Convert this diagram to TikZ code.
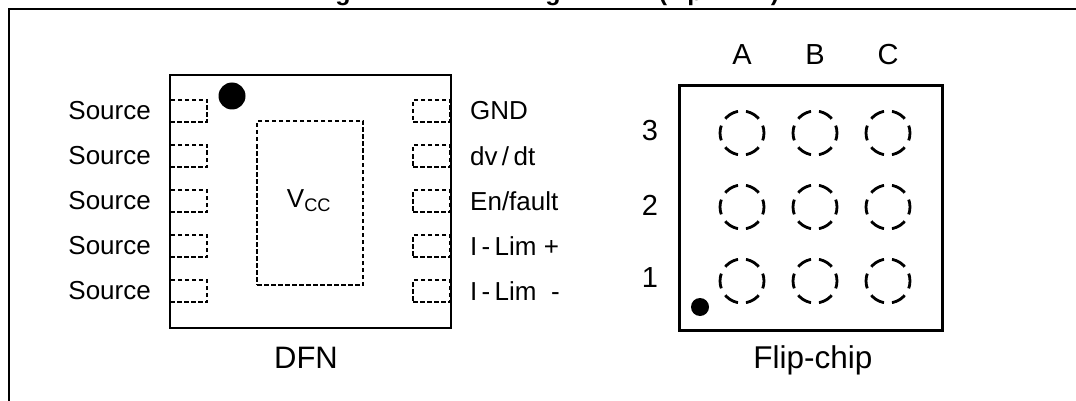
\documentclass[tikz,border=0pt]{standalone}
\usepackage{fontspec}
\setmainfont{Liberation Sans}

\begin{document}
\begin{tikzpicture}
  [x=1pt,y=-1pt,
   every node/.style={inner sep=0pt,font=\fontsize{26}{26}\selectfont},
   pad/.style={draw,line width=1.2pt,dash pattern=on 4.5pt off 2.5pt,minimum width=37pt,minimum height=22pt},
   ball/.style={draw,circle,line width=2.8pt,minimum size=44pt,dash pattern=on 15pt off 8pt,dash phase=7.5pt},
   big/.style={font=\fontsize{29}{29}\selectfont},
   title/.style={font=\bfseries\fontsize{25}{25}\selectfont,anchor=base}]
  \useasboundingbox (0,0) rectangle (1076,401);

  % title line is cut by the top edge
  \begin{scope}
    \clip (0,0) rectangle (1076,9);
    \foreach \name/\px/\glyph in {ga/343/g, gb/553/g, lp/663/(, pp/695/p, rp/775/)}
      \node[title] (\name) at (\px,1) {\glyph};
  \end{scope}

  % frame
  \coordinate (fa) at (9,401);
  \coordinate (fb) at (9,9);
  \coordinate (fc) at (1076,9);
  \draw[line width=2pt] (fa) -- (fb) -- (fc);

  % DFN
  \node[draw,line width=1.6pt,minimum width=281pt,minimum height=253pt] (dfn) at (310.5,201.5) {};
  \node[draw,line width=1.3pt,dash pattern=on 4.5pt off 2.5pt,minimum width=106pt,minimum height=164pt] (vcc) at (310,203) {};
  \node (vcclabel) at (309,201) {V\textsubscript{CC}};
  \node[circle,fill=black,minimum size=27pt] (dfndot) at (232,96) {};
  \node[font=\fontsize{31}{31}\selectfont] (dfnname) at (306,358) {DFN};

  \foreach \row/\y in {a/111,b/156,c/201,d/246,e/291}
  {
    \node[pad] (l\row) at (188.5,\y) {};
    \node[pad] (r\row) at (431.5,\y) {};
    \node[anchor=east] (s\row) at (151,\y) {Source};
  }
  \node[anchor=west] (gnd) at (470,111) {GND};
  \node[anchor=west] (dvdt) at (470,156) {dv\,/\,dt};
  \node[anchor=west] (enfault) at (470,201) {En/fault};
  \node[anchor=west] (limp) at (470,246) {I\,-\,Lim\ +};
  \node[anchor=west] (limm) at (470,291) {I\,-\,Lim\ \ -};

  % flip-chip
  \node[draw,line width=3pt,minimum width=263pt,minimum height=244pt] (chip) at (811,208) {};
  \node[circle,fill=black,minimum size=18pt] (chipdot) at (700,307) {};
  \node[font=\fontsize{31.5}{31.5}\selectfont] (chipname) at (813,360) {Flip-chip};

  \foreach \col/\x in {A/742,B/815,C/888}
  {
    \node[big] (top\col) at (\x,55) {\col};
    \foreach \num/\y in {3/133,2/207,1/281}
      \node[ball] (\col\num) at (\x,\y) {};
  }
  \foreach \num/\y in {3/131,2/205,1/278}
    \node[big] (n\num) at (650,\y) {\num};

\end{tikzpicture}
\end{document}
